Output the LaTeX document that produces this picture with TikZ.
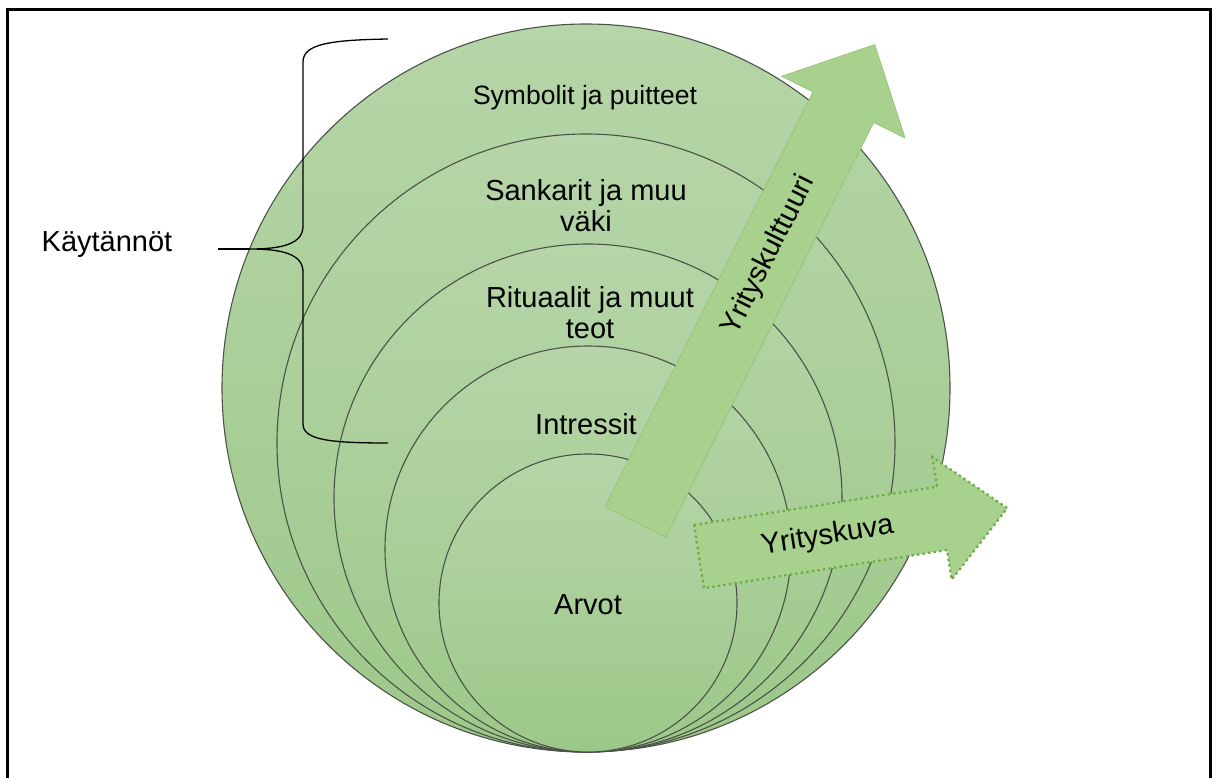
\documentclass[tikz,border=0pt]{standalone}
\usepackage{fontspec}
\setmainfont{Liberation Sans}
\usetikzlibrary{calc}
\definecolor{ringtop}{RGB}{182,213,168}
\definecolor{ringbot}{RGB}{157,200,137}
\definecolor{ringline}{RGB}{75,82,72}
\definecolor{arrowfill}{RGB}{169,209,142}
\definecolor{arrowline}{RGB}{146,194,116}
\definecolor{dotgreen}{RGB}{112,173,71}
\tikzset{
  ring/.style={top color=ringtop, bottom color=ringbot, draw=ringline, line width=1.1pt},
  lbl/.style={font=\fontsize{29}{31}\selectfont, align=center, inner sep=0pt},
  bracepath/.style={draw=black, line width=1.3pt},
  culture/.style={fill=arrowfill, draw=arrowline, line width=0.7pt},
  image/.style={fill=arrowfill, draw=dotgreen, line width=2.3pt, dash pattern=on 2.4pt off 3.2pt}
}
\begin{document}
\begin{tikzpicture}[x=1pt, y=-1pt]
\useasboundingbox (0,0) rectangle (1214,778);
\fill[white] (0,0) rectangle (1214,778);

% frame
\draw[line width=3pt] (7,790) -- (7,10) -- (1210,10) -- (1210,790);

% nested layers, all touching at the bottom
\draw[ring] (586,388) circle[radius=364pt];
\draw[ring] (586,443) circle[radius=309pt];
\draw[ring] (588,498) circle[radius=254pt];
\draw[ring] (588,549) circle[radius=203pt];
\draw[ring] (588,603) circle[radius=149pt];

% layer labels
\node[lbl, font=\fontsize{26.5}{30}\selectfont] (symb) at (585,98) {Symbolit ja puitteet};
\node[lbl] (sank) at (586,206) {Sankarit ja muu\\väki};
\node[lbl] (rit) at (590,313) {Rituaalit ja muut\\teot};
\node[lbl] (intr) at (586,424) {Intressit};
\node[lbl] (arv) at (588,605) {Arvot};

% culture arrow (axis along the shaft)
\begin{scope}[shift={(635.5,522)}, x={(0.448pt,0.894pt)}, y={(-0.894pt,0.448pt)}]
  \coordinate (cbase) at (0,0);
  \coordinate (ctip) at (534,0);
  \draw[culture] (0,34) -- (464,34) -- (464,69) -- (ctip) -- (464,-69) -- (464,-34) -- (0,-34) -- cycle;
  \node[lbl, rotate=63.4] (kult) at (298,0) {Yrityskulttuuri};
\end{scope}

% image arrow
\begin{scope}[shift={(699,556.5)}, x={(0.988pt,0.155pt)}, y={(-0.155pt,0.988pt)}]
  \coordinate (ibase) at (0,0);
  \coordinate (itip) at (312,0);
  \draw[image] (0,32) -- (246,32) -- (246,62) -- (itip) -- (246,-62) -- (246,-32) -- (0,-32) -- cycle;
  \node[lbl, rotate=8.9] (kuva) at (130,0) {Yrityskuva};
\end{scope}

% brace grouping the outer layers
\node[lbl] (kayt) at (107,245) {Käytännöt};
\coordinate (btop) at (388,39);
\coordinate (bbot) at (388,443);
\coordinate (btip) at (250,249);
\coordinate (lead) at (218,249);
\draw[bracepath] (btop) .. controls (330,40) and (303,44) .. (303,62) -- (303,226)
  .. controls (303,244) and (282,249) .. (btip)
  .. controls (282,249) and (303,254) .. (303,272) -- (303,424)
  .. controls (303,440) and (330,443) .. (bbot);
\draw[line width=2pt] (lead) -- (btip);
\end{tikzpicture}
\end{document}
